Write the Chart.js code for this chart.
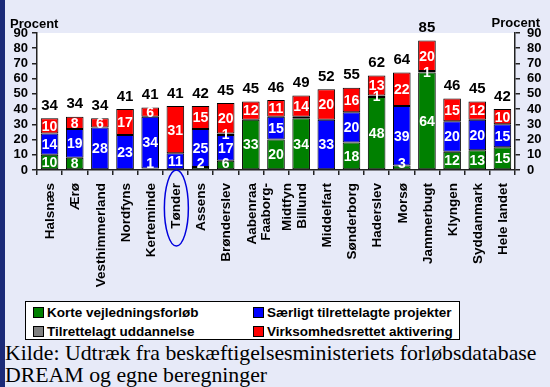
<!DOCTYPE html>
<html>
<head>
<meta charset="utf-8">
<script src="https://cdn.jsdelivr.net/npm/chart.js@4/dist/chart.umd.min.js"></script>
<style>
  html, body { margin: 0; padding: 0; }
  body {
    width: 550px; height: 387px; overflow: hidden; position: relative;
    background: #e7eaf8;
    font-family: "Liberation Sans", Arial, sans-serif;
  }
  #edge { position: absolute; left: 0; top: 0; width: 5px; height: 387px; background: #1b2a78; }
  #wrap { position: absolute; left: 0; top: 0; width: 550px; height: 300px; }
  #legend {
    position: absolute; left: 25px; top: 301px; width: 433px; height: 37px;
    background: #fff; border: 1px solid #000;
  }
  .item { position: absolute; font-weight: bold; font-size: 13.5px; line-height: 15px; white-space: nowrap; }
  .item span.box {
    display: inline-block; width: 9px; height: 9px; border: 1px solid #000;
    margin-right: 3px; vertical-align: -1px;
  }
  #source {
    position: absolute; left: 5px; top: 342px;
    font-family: "Liberation Serif", "Times New Roman", serif; font-size: 21.8px; line-height: 22px;
    color: #000; white-space: nowrap;
  }
</style>
</head>
<body>
<div id="edge"></div>
<div id="wrap"><canvas id="aktChart"></canvas></div>
<div id="legend"></div>
<div id="source">Kilde: Udtræk fra beskæftigelsesministeriets forløbsdatabase<br>DREAM og egne beregninger</div>

<script>
// Kommuner (Faaborg-Midtfyn on two lines)
const kommuner = [
  "Halsnæs", "Ærø", "Vesthimmerland", "Nordfyns", "Kerteminde", "Tønder",
  "Assens", "Brønderslev", "Aabenraa", ["Faaborg-", "Midtfyn"], "Billund",
  "Middelfart", "Sønderborg", "Haderslev", "Morsø", "Jammerbugt",
  "Klyngen", "Syddanmark", "Hele landet"
];

// Andel i procent pr. aktiveringstype
const korteForloeb   = [10, 8, 0, 0, 1, 0, 2, 6, 33, 20, 34, 0, 18, 48, 3, 64, 12, 13, 15];
const saerligtProj   = [14, 19, 28, 23, 34, 11, 25, 17, 0, 15, 0, 33, 20, 0, 39, 0, 20, 20, 15];
const tilrettelagtUd = [0, 0, 0, 0, 0, 0, 0, 1, 0, 0, 1, 0, 0, 1, 0, 1, 0, 0, 0];
const virksomhed     = [10, 8, 6, 17, 6, 31, 15, 20, 12, 11, 14, 20, 16, 13, 22, 20, 15, 12, 10];

// Samlet andel (afrundet) vist over søjlerne
const totaler = [34, 34, 34, 41, 41, 41, 42, 45, 45, 46, 49, 52, 55, 62, 64, 85, 46, 45, 42];

const yTicks = [0, 10, 20, 30, 40, 50, 60, 70, 80, 90];

const FONT = '"Liberation Sans", Arial, sans-serif';

const datasets = [
  { label: "Korte vejledningsforløb", data: korteForloeb, backgroundColor: "#008000" },
  { label: "Særligt tilrettelagte projekter", data: saerligtProj, backgroundColor: "#0000ff" },
  { label: "Tilrettelagt uddannelse", data: tilrettelagtUd, backgroundColor: "#808080" },
  { label: "Virksomhedsrettet aktivering", data: virksomhed, backgroundColor: "#ff0000" }
].map(d => Object.assign(d, {
  borderColor: "#000",
  borderWidth: 1,
  borderSkipped: false,
  barPercentage: 0.7,
  categoryPercentage: 1
}));

// labels not printed on the chart (dataset, index)
const skjulteLabels = ["2:10"];

const plotBg = {
  id: "plotBg",
  beforeDraw(chart) {
    const { ctx, chartArea: a } = chart;
    ctx.save();
    ctx.fillStyle = "#fff";
    ctx.fillRect(a.left, a.top, a.right - a.left, a.bottom - a.top);
    ctx.restore();
  }
};

// vertical category names, multi-line names centred on the tick
const kategoriNavne = {
  id: "kategoriNavne",
  afterDraw(chart) {
    const { ctx, chartArea: a } = chart;
    const xs = chart.scales.x;
    ctx.save();
    ctx.fillStyle = "#000";
    ctx.font = "bold 13.5px " + FONT;
    ctx.textAlign = "right";
    ctx.textBaseline = "middle";
    kommuner.forEach((navn, i) => {
      const lines = Array.isArray(navn) ? navn : [navn];
      const x = xs.getPixelForTick(i);
      lines.forEach((txt, k) => {
        const dx = (k - (lines.length - 1) / 2) * 21;
        ctx.save();
        ctx.translate(x + dx + 1, a.bottom + 13);
        ctx.rotate(-Math.PI / 2);
        ctx.fillText(txt, 0, 0);
        ctx.restore();
      });
    });
    ctx.restore();
  }
};

const barLabels = {
  id: "barLabels",
  afterDatasetsDraw(chart) {
    const { ctx, chartArea: a } = chart;
    ctx.save();
    ctx.textAlign = "center";
    ctx.textBaseline = "middle";
    ctx.font = "bold 14px " + FONT;
    ctx.fillStyle = "#fff";
    chart.data.datasets.forEach((ds, di) => {
      const meta = chart.getDatasetMeta(di);
      meta.data.forEach((bar, i) => {
        const v = ds.data[i];
        if (!v || skjulteLabels.includes(di + ":" + i)) return;
        let y = (bar.y + bar.base) / 2;
        if (y > a.bottom - 7) y = a.bottom - 7;
        ctx.fillText(String(v), bar.x, y + 1);
      });
    });

    // totals above the stacks
    const top = chart.getDatasetMeta(chart.data.datasets.length - 1);
    ctx.fillStyle = "#000";
    ctx.font = "bold 15px " + FONT;
    ctx.textBaseline = "bottom";
    top.data.forEach((bar, i) => {
      ctx.fillText(String(totaler[i]), bar.x, bar.y - 5);
    });

    // "Procent" headings over both axes
    ctx.font = "bold 13px " + FONT;
    ctx.textBaseline = "alphabetic";
    ctx.textAlign = "left";
    ctx.fillText("Procent", 10, 28);
    ctx.textAlign = "right";
    ctx.fillText("Procent", 540, 27);

    // ring around Tønder
    const x = chart.scales.x.getPixelForValue(5);
    ctx.strokeStyle = "#0000dd";
    ctx.lineWidth = 1.5;
    ctx.beginPath();
    ctx.ellipse(x + 1, a.bottom + 38, 12, 38, 0, 0, Math.PI * 2);
    ctx.stroke();
    ctx.restore();
  }
};

function yAxis(position, width, padding) {
  return {
    position: position,
    stacked: true,
    min: 0,
    max: 90,
    afterBuildTicks: s => { s.ticks = yTicks.map(v => ({ value: v })); },
    afterFit: s => { s.width = width; },
    border: { color: "#222", width: 1.5 },
    grid: { drawOnChartArea: false, tickLength: 5, color: "#222", lineWidth: 1.5 },
    ticks: {
      color: "#000", padding: padding, autoSkip: false, stepSize: 10,
      font: { family: FONT, size: 13, weight: "bold" }
    }
  };
}

new Chart(document.getElementById("aktChart"), {
  type: "bar",
  data: { labels: kommuner, datasets: datasets },
  options: {
    responsive: true,
    maintainAspectRatio: false,
    animation: false,
    layout: { padding: { top: 33 } },
    plugins: { legend: { display: false }, tooltip: { enabled: false } },
    scales: {
      x: {
        stacked: true,
        afterFit: s => { s.height = 130; },
        border: { color: "#222", width: 1.5 },
        grid: { drawOnChartArea: false, tickLength: 5, color: "#222", lineWidth: 1.5, offset: true },
        ticks: { display: false, autoSkip: false }
      },
      y: yAxis("left", 37, 4),
      y2: Object.assign(yAxis("right", 35, 7), { stacked: false })
    }
  },
  plugins: [plotBg, barLabels, kategoriNavne]
});

// legend box, two columns
const legendEl = document.getElementById("legend");
datasets.forEach((ds, i) => {
  const el = document.createElement("div");
  el.className = "item";
  el.style.left = (i % 2 === 0 ? 7 : 227) + "px";
  el.style.top = (i < 2 ? 3 : 22) + "px";
  el.innerHTML = '<span class="box" style="background:' + ds.backgroundColor + '"></span>' + ds.label;
  legendEl.appendChild(el);
});
</script>
</body>
</html>
